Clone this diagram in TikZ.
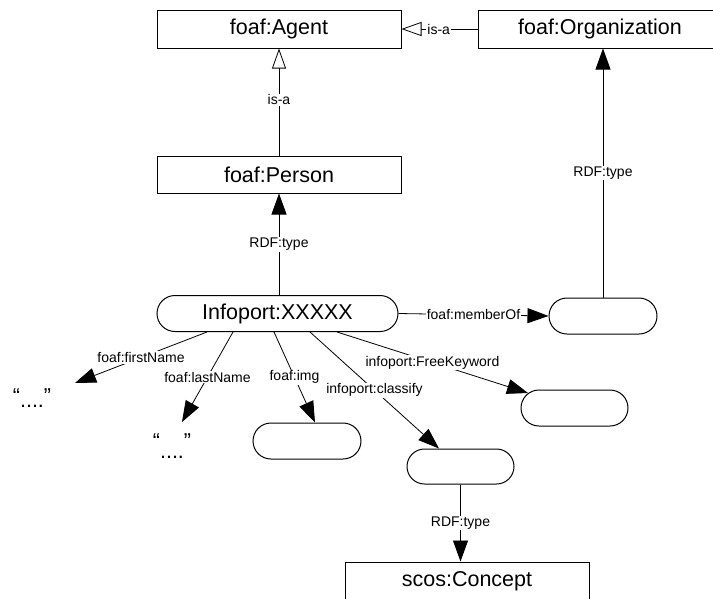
\documentclass[tikz,border=0pt]{standalone}
\usepackage{fontspec}
\setmainfont{Liberation Sans}
\usetikzlibrary{arrows.meta,shapes.misc}
\tikzset{
  classbox/.style={draw, line width=1pt, minimum width=244pt, minimum height=38pt,
    inner sep=0pt, font=\fontsize{21.5}{24}\selectfont},
  inst/.style={draw, rounded rectangle, line width=1pt, minimum height=36pt,
    minimum width=108pt, inner sep=0pt, font=\fontsize{21.5}{24}\selectfont},
  literal/.style={anchor=base, inner sep=0pt, font=\fontsize{21.5}{24}\selectfont},
  lbl/.style={fill=white, inner sep=1pt, font=\fontsize{14}{16}\selectfont},
  rel/.style={line width=0.8pt, -{Triangle[length=21pt,width=15pt]}},
  isa/.style={line width=0.8pt, -{Triangle[open,length=20pt,width=14pt,fill=white]}},
}
\begin{document}
\begin{tikzpicture}[x=1pt,y=-1pt]
\useasboundingbox (0,0) rectangle (713,598);

% classes
\node[classbox] (agent)   at (279,29)    {foaf:Agent};
\node[classbox] (org)     at (600,29)    {foaf:Organization};
\node[classbox, minimum height=37pt] (person) at (279,174.5) {foaf:Person};
\node[classbox] (concept) at (467,581)   {scos:Concept};

% instances
\node[inst, minimum width=241pt] (info) at (277.5,313.5) {Infoport:XXXXX};
\node[inst] (member) at (603,316) {};
\node[inst, minimum width=107pt] (fk) at (574.5,408) {};
\node[inst] (img) at (307,441) {};
\node[inst, minimum width=107pt, minimum height=35pt] (cls) at (460.5,466.5) {};

% literal values
\node[literal] (q1) at (32,403)  {“\raisebox{-4pt}{....}”};
\node[literal] (q2) at (172,448) {“\raisebox{-10pt}{....}”};

% subclass links
\draw[isa] (person.north) -- node[lbl, pos=0.52] {is-a} (agent.south);
\draw[isa] (org.west) -- node[lbl, pos=0.51] {is-a} (agent.east);

% type links
\draw[rel] (person.south |- info.north) -- node[lbl] {RDF:type} (person.south);
\draw[rel] (member.north) -- node[lbl] {RDF:type} (member.north |- org.south);
\draw[rel] (cls.south) -- node[lbl] {RDF:type} (cls.south |- concept.north);

% properties of the instance
\draw[rel] (info.east) -- node[lbl] {foaf:memberOf} (member.west);
\draw[rel] ([xshift=-70.5pt]info.south) -- node[lbl] {foaf:firstName}
  ([xshift=43pt,yshift=20pt]q1.base);
\draw[rel] ([xshift=-44.5pt]info.south) -- node[lbl] {foaf:lastName}
  ([xshift=10pt,yshift=26pt]q2.base);
\draw[rel] ([xshift=-3.5pt]info.south) -- node[lbl] {foaf:img}
  ([xshift=8pt]img.north);
\draw[rel] ([xshift=32.5pt]info.south) -- node[lbl] {infoport:classify}
  ([xshift=-21.5pt]cls.north);
\draw[rel] ([xshift=59.5pt]info.south) -- node[lbl] {infoport:FreeKeyword}
  ([xshift=-46.5pt,yshift=15pt]fk.center);
\end{tikzpicture}
\end{document}
